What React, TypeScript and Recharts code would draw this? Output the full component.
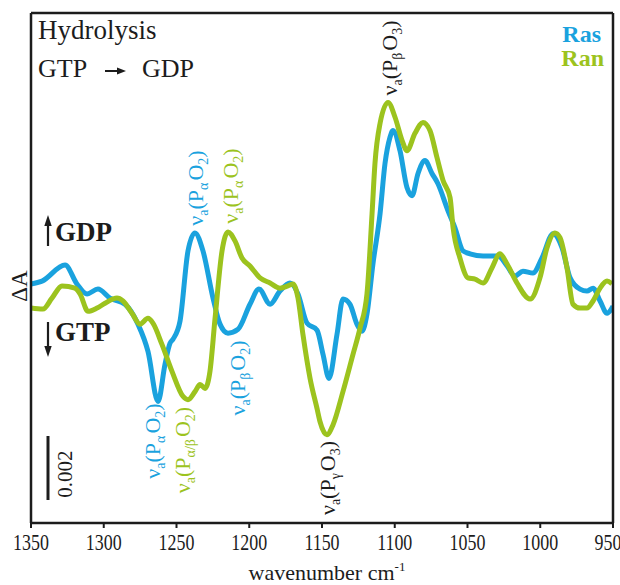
import React from "react";
import { LineChart, Line, XAxis, YAxis } from "recharts";

type Point = { w: number; v: number };

// wavenumber (cm-1) and ΔA (x 0.001)
const rasWavenumbers = [
  1350, 1342.4, 1326.6, 1318.4, 1311.5, 1304, 1295.7, 1285.4, 1276.5, 1269.6, 1262.7, 1257.9,
  1254.5, 1252.4, 1247.6, 1242.1, 1237.3, 1231.8, 1224.9, 1220.1, 1214.6, 1207.7, 1199.5,
  1193.3, 1185.7, 1178.9, 1172, 1166.5, 1160.3, 1153.4, 1149.3, 1145.2, 1139.7, 1135.6,
  1130.8, 1126, 1122.5, 1119.1, 1115, 1110.1, 1106.7, 1103.3, 1101.2, 1096.4, 1091.6, 1088.1,
  1084, 1079.2, 1074.4, 1070.3, 1063.4, 1058.6, 1053.1, 1048.3, 1039.3, 1029, 1022.8, 1017.4,
  1011.9, 1005, 998.8, 991.2, 985, 979.5, 972.7, 967.9, 963.7, 958.9, 954.1, 950,
];
const rasValues = [
  0.44, 0.53, 1.03, 0.44, 0.13, 0.28, 0.0, -0.19, -0.81, -1.66, -3.22, -2.06, -1.41, -1.28,
  -0.72, 1.47, 2.03, 1.47, 0.0, -0.81, -1.09, -0.97, -0.19, 0.28, -0.19, 0.22, 0.47, 0.13,
  -0.78, -1.0, -1.75, -2.5, -1.13, -0.03, -0.19, -0.81, -1.03, -0.5, 1.06, 2.63, 4.19, 5.0,
  5.22, 4.59, 3.44, 3.19, 3.88, 4.28, 3.88, 3.56, 2.72, 2.19, 1.47, 1.38, 1.31, 1.31, 1.0,
  0.69, 0.84, 0.78, 1.25, 2.0, 1.56, 0.63, 0.28, 0.22, 0.31, -0.09, -0.47, -0.25,
];

const ranWavenumbers = [
  1350, 1341.8, 1335.6, 1328.7, 1319.8, 1316.3, 1310.8, 1304.6, 1299.1, 1290.9, 1286.8, 1280.6,
  1275.1, 1269.6, 1266.2, 1260, 1253.1, 1245.5, 1242.1, 1237.3, 1233.8, 1230.4, 1227, 1223.5,
  1218.7, 1214.6, 1209.8, 1205, 1199.5, 1192.6, 1185.7, 1178.9, 1173.4, 1169.9, 1166.5,
  1163.1, 1158.2, 1153.4, 1151.4, 1146.6, 1142.4, 1135.6, 1128.7, 1123.9, 1119.1, 1115.6,
  1113.6, 1110.1, 1104.6, 1099.8, 1095, 1091.6, 1086.1, 1080.6, 1075.8, 1071, 1066.8, 1062,
  1059.9, 1055.2, 1049.7, 1044.8, 1039.3, 1033.2, 1027.7, 1022.8, 1016, 1007, 1000.2, 995.4,
  989.9, 986.4, 981.6, 977.5, 972.7, 967.9, 963.7, 958.9, 954.1, 950.7,
];
const ranValues = [
  -0.31, -0.34, 0.0, 0.38, 0.31, 0.13, -0.41, -0.31, -0.16, 0.0, -0.09, -0.47, -0.81, -0.63,
  -0.78, -1.44, -2.28, -3.06, -3.16, -2.91, -2.69, -2.81, -2.28, -0.63, 1.47, 2.06, 1.78,
  1.25, 1.0, 0.63, 0.47, 0.31, 0.38, 0.44, 0.0, -1.13, -2.5, -3.44, -3.84, -4.25, -3.94,
  -2.91, -1.75, -0.94, 0.13, 2.63, 4.19, 5.44, 6.09, 5.63, 4.91, 4.59, 5.13, 5.47, 5.22,
  4.38, 3.66, 3.13, 2.19, 1.25, 0.63, 0.59, 0.47, 0.94, 1.38, 1.06, 0.47, -0.03, 0.63, 1.56,
  2.03, 1.88, 0.94, -0.19, -0.31, -0.31, -0.09, 0.31, 0.53, 0.44,
];

const xTicks = [1350, 1300, 1250, 1200, 1150, 1100, 1050, 1000, 950];

const RAS = "#1aa2de";
const RAN = "#9cc31e";
const INK = "#1c1c1c";
const SERIF = "'Liberation Serif', 'Times New Roman', serif";

const ras: Point[] = rasWavenumbers.map((w, i) => ({ w, v: rasValues[i] }));
const ran: Point[] = ranWavenumbers.map((w, i) => ({ w, v: ranValues[i] }));

const WaveTick = (props: any) => {
  const { x, y, payload } = props;
  return (
    <g transform={`translate(${x},${y})`}>
      <text
        textAnchor="middle"
        y={22}
        transform="scale(0.78,1)"
        fontFamily={SERIF}
        fontSize={23}
        fill={INK}
      >
        {payload.value}
      </text>
    </g>
  );
};

// rotated band label: ν_a(P_x O_n)
const Band = ({
  x,
  y,
  sub,
  n,
  color,
}: {
  x: number;
  y: number;
  sub: string;
  n: string;
  color: string;
}) => (
  <text
    transform={`translate(${x},${y}) rotate(-90)`}
    textAnchor="middle"
    fontFamily={SERIF}
    fontSize={22}
    fill={color}
  >
    ν<tspan fontSize={14} dy={5}>a</tspan>
    <tspan dy={-5}>(P</tspan>
    <tspan fontSize={14} dy={5}>{sub}</tspan>
    <tspan dy={-5} dx={2}>O</tspan>
    <tspan fontSize={14} dy={5}>{n}</tspan>
    <tspan dy={-5}>)</tspan>
  </text>
);

export default function App() {
  return (
    <div style={{ position: "fixed", left: 0, top: 0, width: 620, height: 585, background: "#fff" }}>
      <LineChart
        width={620}
        height={585}
        margin={{ top: 12, right: 6, bottom: 32, left: 30 }}
      >
        <XAxis
          dataKey="w"
          type="number"
          domain={[950, 1350]}
          reversed
          ticks={xTicks}
          tick={<WaveTick />}
          height={30}
          tickSize={5}
          tickMargin={0}
          axisLine={{ stroke: INK, strokeWidth: 2.5 }}
          tickLine={{ stroke: INK, strokeWidth: 2 }}
          allowDataOverflow
        />
        <XAxis
          xAxisId="top"
          orientation="top"
          dataKey="w"
          type="number"
          domain={[950, 1350]}
          reversed
          height={1}
          tick={false}
          tickLine={false}
          axisLine={{ stroke: INK, strokeWidth: 2.5 }}
        />
        <YAxis
          type="number"
          domain={[-7, 8.875]}
          width={1}
          tick={false}
          tickLine={false}
          axisLine={{ stroke: INK, strokeWidth: 2.5 }}
          allowDataOverflow
        />
        <YAxis
          yAxisId="right"
          orientation="right"
          type="number"
          domain={[-7, 8.875]}
          width={1}
          tick={false}
          tickLine={false}
          axisLine={{ stroke: INK, strokeWidth: 2.5 }}
        />
        <Line
          data={ras}
          dataKey="v"
          type="monotone"
          stroke={RAS}
          strokeWidth={5}
          strokeLinejoin="round"
          dot={false}
          isAnimationActive={false}
        />
        <Line
          data={ran}
          dataKey="v"
          type="monotone"
          stroke={RAN}
          strokeWidth={5}
          strokeLinejoin="round"
          dot={false}
          isAnimationActive={false}
        />
      </LineChart>

      <svg
        width={620}
        height={585}
        style={{ position: "absolute", left: 0, top: 0, pointerEvents: "none" }}
      >
        <g fontFamily={SERIF} fill={INK}>
          <text x={38} y={39} fontSize={27}>Hydrolysis</text>
          <text x={38} y={77} fontSize={26}>GTP</text>
          <line x1={105} y1={71} x2={119} y2={71} stroke={INK} strokeWidth={2} />
          <polygon points="126,71 117,67.5 117,74.5" fill={INK} />
          <text x={142} y={77} fontSize={26}>GDP</text>

          <line x1={48} y1={246} x2={48} y2={223} stroke={INK} strokeWidth={2.2} />
          <polygon points="48,215 44.3,226 51.7,226" fill={INK} />
          <text x={55} y={241} fontSize={27} fontWeight="bold">GDP</text>
          <line x1={48} y1={322} x2={48} y2={348} stroke={INK} strokeWidth={2.2} />
          <polygon points="48,357 44.3,346 51.7,346" fill={INK} />
          <text x={55} y={341} fontSize={27} fontWeight="bold">GTP</text>

          <text transform="translate(27,286) rotate(-90)" textAnchor="middle" fontSize={23}>
            ΔA
          </text>

          <line x1={48} y1={436} x2={48} y2={500} stroke={INK} strokeWidth={3} />
          <text transform="translate(72,474) rotate(-90)" textAnchor="middle" fontSize={21}>
            0.002
          </text>

          <text x={327} y={580} textAnchor="middle" fontSize={22}>
            wavenumber cm<tspan fontSize={13} dy={-9}>-1</tspan>
          </text>
        </g>

        <text x={601} y={42} textAnchor="end" fontFamily={SERIF} fontSize={24} fontWeight="bold" fill={RAS}>
          Ras
        </text>
        <text x={604} y={66} textAnchor="end" fontFamily={SERIF} fontSize={24} fontWeight="bold" fill={RAN}>
          Ran
        </text>

        <Band x={160} y={441} sub="α" n="2" color={RAS} />
        <Band x={190} y={450} sub="α/β" n="2" color={RAN} />
        <Band x={245} y={378} sub="β" n="2" color={RAS} />
        <Band x={203} y={188} sub="α" n="2" color={RAS} />
        <Band x={238} y={186} sub="α" n="2" color={RAN} />
        <Band x={397} y={58} sub="β" n="3" color={INK} />
        <Band x={335} y={478} sub="γ" n="3" color={INK} />
      </svg>
    </div>
  );
}
